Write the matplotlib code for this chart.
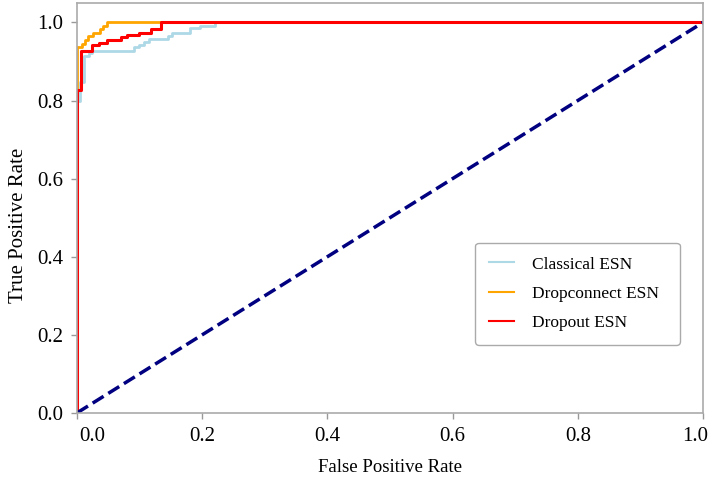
import matplotlib.pyplot as plt
import matplotlib.transforms as mtransforms

plt.rcParams['font.family'] = ['Liberation Serif', 'DejaVu Serif']

# ROC curve corner points (false positive rate, true positive rate)
fpr_classical = [0.0, 0.0, 0.005, 0.005, 0.011, 0.011, 0.019, 0.019, 0.024, 0.024,
                 0.091, 0.091, 0.099, 0.099, 0.107, 0.107, 0.115, 0.115, 0.145, 0.145,
                 0.151, 0.151, 0.180, 0.180, 0.196, 0.196, 0.220, 0.220, 1.0]
tpr_classical = [0.0, 0.800, 0.800, 0.848, 0.848, 0.914, 0.914, 0.921, 0.921, 0.928,
                 0.928, 0.936, 0.936, 0.943, 0.943, 0.949, 0.949, 0.957, 0.957, 0.966,
                 0.966, 0.974, 0.974, 0.985, 0.985, 0.991, 0.991, 1.0, 1.0]

fpr_dropconnect = [0.0, 0.0, 0.008, 0.008, 0.012, 0.012, 0.018, 0.018, 0.026, 0.026,
                   0.036, 0.036, 0.042, 0.042, 0.048, 0.048, 1.0]
tpr_dropconnect = [0.0, 0.936, 0.936, 0.946, 0.946, 0.956, 0.956, 0.965, 0.965, 0.974,
                   0.974, 0.982, 0.982, 0.991, 0.991, 1.0, 1.0]

fpr_dropout = [0.0, 0.0, 0.007, 0.007, 0.024, 0.024, 0.035, 0.035, 0.048, 0.048,
               0.070, 0.070, 0.080, 0.080, 0.099, 0.099, 0.118, 0.118, 0.134, 0.134, 1.0]
tpr_dropout = [0.0, 0.826, 0.826, 0.928, 0.928, 0.941, 0.941, 0.947, 0.947, 0.954,
               0.954, 0.963, 0.963, 0.967, 0.967, 0.974, 0.974, 0.982, 0.982, 1.0, 1.0]

ticks = [0.0, 0.2, 0.4, 0.6, 0.8, 1.0]
tick_labels = ['0.0', '0.2', '0.4', '0.6', '0.8', '1.0']

fig = plt.figure(figsize=(7.27, 4.88), dpi=100)
ax = fig.add_axes([0.106, 0.154, 0.861, 0.840])

ax.plot(fpr_classical, tpr_classical, color='lightblue', lw=2, label='Classical ESN')
ax.plot(fpr_dropconnect, tpr_dropconnect, color='orange', lw=2, label='Dropconnect ESN')
ax.plot(fpr_dropout, tpr_dropout, color='red', lw=2.2, label='Dropout ESN')
ax.plot([0, 1], [0, 1], color='navy', lw=2.5, linestyle='--')

ax.set_xlim(0.0, 1.0)
ax.set_ylim(0.0, 1.05)
ax.set_xticks(ticks)
ax.set_xticklabels(tick_labels)
ax.set_yticks(ticks)
ax.set_yticklabels(tick_labels)
ax.tick_params(colors='#999999', labelcolor='black', labelsize=15, length=4, width=1)
ax.tick_params(axis='x', pad=6)
ax.tick_params(axis='y', pad=6)
for sp in ax.spines.values():
    sp.set_color('#aaaaaa')
    sp.set_linewidth(1.2)

# nudge the end x tick labels away from the corners
xlabels = ax.get_xticklabels()
for lab, dx in ((xlabels[0], 15), (xlabels[-1], -8)):
    lab.set_transform(lab.get_transform() +
                      mtransforms.ScaledTranslation(dx / 100, 0, fig.dpi_scale_trans))

ax.set_xlabel('False Positive Rate', fontsize=13.5)
ax.xaxis.set_label_coords(0.5, -0.112)
ax.set_ylabel('True Positive Rate', fontsize=15)
ax.yaxis.set_label_coords(-0.078, 0.4585)

leg = ax.legend(loc='lower left', bbox_to_anchor=(0.636, 0.166, 0.327, 0.249),
                mode='expand', borderaxespad=0, fontsize=12.5,
                handlelength=1.45, handletextpad=1.0, borderpad=0.8, labelspacing=0.75,
                edgecolor='#aaaaaa', framealpha=1)
for line in leg.get_lines():
    line.set_linewidth(1.5)

fig.savefig('out.png', dpi=100)
